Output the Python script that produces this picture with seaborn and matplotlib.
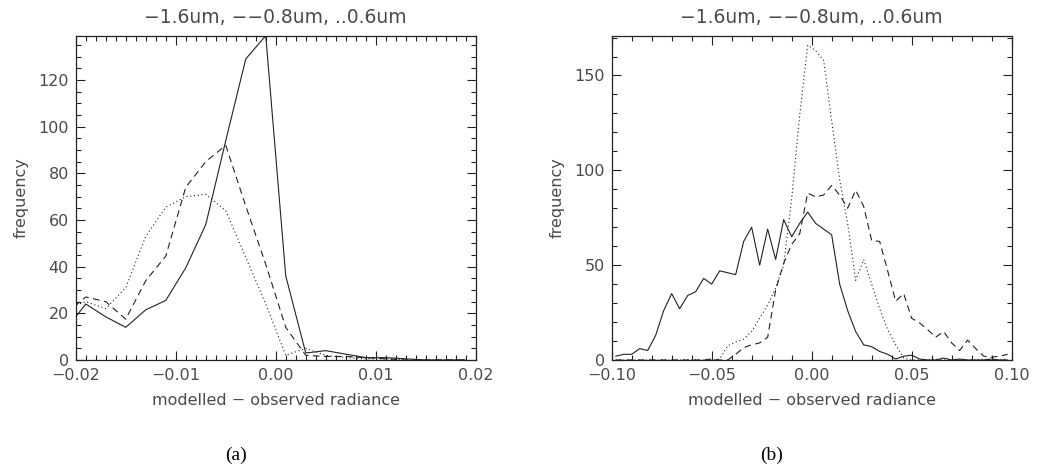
import numpy as np
import pandas as pd
import seaborn as sns
import matplotlib.pyplot as plt
from matplotlib.ticker import MultipleLocator

# ---- data ----
# panel (a): bin centres and counts
x_a = [-0.021, -0.019, -0.017, -0.015, -0.013, -0.011, -0.009, -0.007, -0.005, -0.003,
       -0.001, 0.001, 0.003, 0.005, 0.007, 0.009, 0.011, 0.013, 0.015, 0.017, 0.019]
a_16um = [13, 24, 18.5, 14, 21.5, 25.5, 39.5, 58, 94, 129,
          139, 36, 3, 4, 2.5, 1, 1, 0.5, 0, 0, 0]
a_08um = [20, 27, 25, 17.5, 34, 44.5, 74, 85, 92, 66,
          41, 14, 2, 1.5, 1.5, 1, 0.5, 0, 0, 0, 0]
a_06um = [22, 25, 22, 31, 53, 65.5, 70, 71, 64, 44,
          24, 2, 5, 2, 1, 0.5, 0.5, 0, 0, 0, 0]

# panel (b)
x_b = [-0.098, -0.094, -0.090, -0.086, -0.082, -0.078, -0.074, -0.070, -0.066, -0.062,
       -0.058, -0.054, -0.050, -0.046, -0.042, -0.038, -0.034, -0.030, -0.026, -0.022,
       -0.018, -0.014, -0.010, -0.006, -0.002, 0.002, 0.006, 0.010, 0.014, 0.018,
       0.022, 0.026, 0.030, 0.034, 0.038, 0.042, 0.046, 0.050, 0.054, 0.058,
       0.062, 0.066, 0.070, 0.074, 0.078, 0.082, 0.086, 0.090, 0.094, 0.098]
b_16um = [2, 3, 3, 6, 5, 13, 26, 35, 27, 34,
          36, 43, 40, 47, 46, 45, 62.5, 70, 50, 69,
          53, 74, 65, 72, 78, 72, 69, 66, 40, 26,
          15, 8, 7, 4.5, 3, 0.5, 2, 2.5, 0.5, 0,
          0, 1, 0, 0.5, 0, 0, 0, 0.5, 0, 0]
b_08um = [0, 0, 0, 0, 0, 0, 0, 0, 0, 0,
          0, 0, 0.5, 0, 0, 3, 6.5, 8, 9, 12,
          37, 51, 61, 66.5, 88, 86, 87, 92, 87, 80,
          89.5, 81, 63, 62.5, 47, 31, 35, 22, 19.5, 16,
          12, 15, 9, 5, 10.5, 6, 2, 1.5, 2, 3]
b_06um = [0, 0, 0, 0, 0, 0, 0, 0, 0, 0,
          0, 0, 0, 0.5, 7.5, 9.5, 11, 15, 22, 29,
          38, 50, 85, 129, 166, 163, 158, 126, 95, 72,
          42, 53, 40, 27, 16, 8, 1, 0, 0, 0,
          0.5, 0, 0, 0, 0, 0, 0.5, 0, 0, 0.5]

bands = ["1.6um", "0.8um", "0.6um"]
title = "\u22121.6um, \u2212\u22120.8um, ..0.6um"
xlabel = "modelled \u2212 observed radiance"


def to_long(x, series):
    frames = []
    for band, vals in zip(bands, series):
        frames.append(pd.DataFrame({"x": x, "freq": vals, "band": band}))
    return pd.concat(frames, ignore_index=True)


df_a = to_long(x_a, [a_16um, a_08um, a_06um])
df_b = to_long(x_b, [b_16um, b_08um, b_06um])

sns.set_style("ticks")
plt.rcParams["font.family"] = ["DejaVu Sans"]
text_col = "#4a4a4a"
line_col = "#222222"

fig = plt.figure(figsize=(10.39, 4.71), dpi=100)
ax_a = fig.add_axes([0.0729, 0.2357, 0.385, 0.6886])
ax_b = fig.add_axes([0.5887, 0.2357, 0.385, 0.6886])

dashes = {"1.6um": "", "0.8um": (6, 4), "0.6um": (1, 2.4)}

panels = [
    (ax_a, df_a, (-0.02, 0.02), (0, 139), 0.01, 0.001, 20, 5),
    (ax_b, df_b, (-0.10, 0.10), (0, 171), 0.05, 0.01, 50, 10),
]

for ax, df, xlim, ylim, xmaj, xmin, ymaj, ymin in panels:
    sns.lineplot(data=df, x="x", y="freq", style="band", dashes=dashes,
                 color=line_col, linewidth=0.8, legend=False, ax=ax,
                 estimator=None, sort=True)
    ax.set_xlim(*xlim)
    ax.set_ylim(*ylim)
    ax.xaxis.set_major_locator(MultipleLocator(xmaj))
    ax.xaxis.set_minor_locator(MultipleLocator(xmin))
    ax.yaxis.set_major_locator(MultipleLocator(ymaj))
    ax.yaxis.set_minor_locator(MultipleLocator(ymin))
    ax.xaxis.set_major_formatter(
        plt.FuncFormatter(lambda v, p: "{:.2f}".format(v).replace("-", "\u2212")))
    ax.tick_params(which="both", direction="in", top=True, right=True,
                   color=line_col, width=0.8, labelcolor=text_col, labelsize=11.5)
    ax.tick_params(which="major", length=6.5)
    ax.tick_params(which="minor", length=3.4)
    ax.tick_params(axis="x", which="major", pad=6)
    ax.tick_params(axis="y", which="major", pad=5)
    for sp in ax.spines.values():
        sp.set_visible(True)
        sp.set_color(line_col)
        sp.set_linewidth(0.9)
    ax.set_title(title, fontsize=13.5, color=text_col, pad=9)
    ax.set_xlabel(xlabel, fontsize=11.5, color=text_col, labelpad=7)
    ax.set_ylabel("frequency", fontsize=11.5, color=text_col, labelpad=7)

fig.text(236 / 1039, 1 - 455 / 471, "(a)", ha="center", va="center",
         fontsize=14, family="Liberation Serif", color="black")
fig.text(772 / 1039, 1 - 455 / 471, "(b)", ha="center", va="center",
         fontsize=14, family="Liberation Serif", color="black")

fig.savefig("out.png", dpi=100, facecolor="white")
